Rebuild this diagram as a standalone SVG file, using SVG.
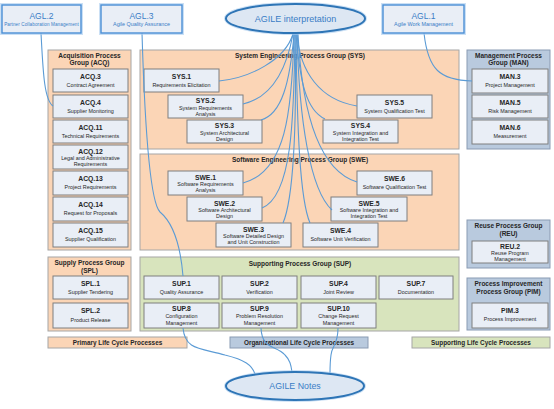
<svg xmlns="http://www.w3.org/2000/svg" width="554" height="409" viewBox="0 0 554 409">
<defs>
<style>
.go{fill:#fbd5b6;stroke:#a6a6a6;stroke-width:1}
.gb{fill:#b9cade;stroke:#8a9bb3;stroke-width:1}
.gg{fill:#d8e4bd;stroke:#a6a6a6;stroke-width:1}
.box{fill:#e9eef6;stroke:#7f7f7f;stroke-width:1}
text{font-family:"Liberation Sans",Arial,sans-serif;fill:#262626;text-anchor:middle}
.t{font-weight:bold;font-size:6.8px}
.s{font-size:5.4px}
.gt{font-weight:bold;font-size:6.5px}
.lt{font-weight:bold;font-size:6.4px}
.aglr{fill:#e9eef6;stroke:#4a8fd6;stroke-width:1.4}
.glow{fill:none;stroke:#a9cbee;stroke-width:4;opacity:0.6}
.at{fill:#3a7dc6;font-size:8.5px}
.as{fill:#3a7dc6;font-size:4.6px}
.ell{fill:#dde7f3;stroke:#2e75b6;stroke-width:2}
.c{fill:none;stroke:#5b9bd5;stroke-width:1.1}
</style>
</defs>
<rect x="0" y="0" width="554" height="409" fill="#ffffff"/>

<!-- Groups -->
<g id="grp-acq"><rect class="go" x="48" y="50" width="83" height="200"/>
<text class="gt" x="89.5" y="57.5">Acquisition Process</text><text class="gt" x="89.5" y="65">Group (ACQ)</text></g>
<g id="grp-sys"><rect class="go" x="140" y="50" width="319" height="99"/>
<text class="gt" x="300" y="57.5">System Engineering Process Group (SYS)</text></g>
<g id="grp-swe"><rect class="go" x="140" y="154" width="319" height="96"/>
<text class="gt" x="300" y="162">Software Engineering Process Group (SWE)</text></g>
<g id="grp-man"><rect class="gb" x="467" y="50" width="83" height="99"/>
<text class="gt" x="508.5" y="57.5">Management Process</text><text class="gt" x="508.5" y="65">Group (MAN)</text></g>
<g id="grp-reu"><rect class="gb" x="467" y="220" width="83" height="48"/>
<text class="gt" x="508.5" y="228">Reuse Process Group</text><text class="gt" x="508.5" y="235.5">(REU)</text></g>
<g id="grp-pim"><rect class="gb" x="467" y="278" width="83" height="52"/>
<text class="gt" x="508.5" y="286">Process Improvement</text><text class="gt" x="508.5" y="293.5">Process Group (PIM)</text></g>
<g id="grp-spl"><rect class="go" x="48" y="257" width="83" height="74"/>
<text class="gt" x="89.5" y="265">Supply Process Group</text><text class="gt" x="89.5" y="272.5">(SPL)</text></g>
<g id="grp-sup"><rect class="gg" x="140" y="257" width="319" height="74"/>
<text class="gt" x="300" y="266">Supporting Process Group (SUP)</text></g>

<!-- ACQ boxes -->
<g id="acq3"><rect class="box" x="53" y="69" width="75" height="23"/><text class="t" x="90.5" y="78.5">ACQ.3</text><text class="s" x="90.5" y="86.5">Contract Agreement</text></g>
<g id="acq4"><rect class="box" x="53" y="95" width="75" height="23"/><text class="t" x="90.5" y="104.5">ACQ.4</text><text class="s" x="90.5" y="112.5">Supplier Monitoring</text></g>
<g id="acq11"><rect class="box" x="53" y="120" width="75" height="23"/><text class="t" x="90.5" y="129.5">ACQ.11</text><text class="s" x="90.5" y="137.5">Technical Requirements</text></g>
<g id="acq12"><rect class="box" x="53" y="145" width="75" height="24"/><text class="t" x="90.5" y="153.5">ACQ.12</text><text class="s" x="90.5" y="160">Legal and Administrative</text><text class="s" x="90.5" y="166">Requirements</text></g>
<g id="acq13"><rect class="box" x="53" y="171" width="75" height="24"/><text class="t" x="90.5" y="180.5">ACQ.13</text><text class="s" x="90.5" y="188.5">Project Requirements</text></g>
<g id="acq14"><rect class="box" x="53" y="197" width="75" height="24"/><text class="t" x="90.5" y="206.5">ACQ.14</text><text class="s" x="90.5" y="214.5">Request for Proposals</text></g>
<g id="acq15"><rect class="box" x="53" y="223" width="75" height="24"/><text class="t" x="90.5" y="232.5">ACQ.15</text><text class="s" x="90.5" y="240.5">Supplier Qualification</text></g>

<!-- SYS boxes -->
<g id="sys1"><rect class="box" x="144" y="69" width="75" height="23"/><text class="t" x="181.5" y="78.5">SYS.1</text><text class="s" x="181.5" y="86.5">Requirements Elicitation</text></g>
<g id="sys2"><rect class="box" x="168" y="95" width="75" height="23"/><text class="t" x="205.5" y="103">SYS.2</text><text class="s" x="205.5" y="109.5">System Requirements</text><text class="s" x="205.5" y="115.5">Analysis</text></g>
<g id="sys3"><rect class="box" x="187" y="120" width="75" height="23"/><text class="t" x="224.5" y="128">SYS.3</text><text class="s" x="224.5" y="134.5">System Architectural</text><text class="s" x="224.5" y="140.5">Design</text></g>
<g id="sys4"><rect class="box" x="323" y="120" width="75" height="23"/><text class="t" x="360.5" y="128">SYS.4</text><text class="s" x="360.5" y="134.5">System Integration and</text><text class="s" x="360.5" y="140.5">Integration Test</text></g>
<g id="sys5"><rect class="box" x="357" y="95" width="75" height="23"/><text class="t" x="394.5" y="104.5">SYS.5</text><text class="s" x="394.5" y="112.5">System Qualification Test</text></g>

<!-- SWE boxes -->
<g id="swe1"><rect class="box" x="168" y="171" width="75" height="24"/><text class="t" x="205.5" y="179.5">SWE.1</text><text class="s" x="205.5" y="186">Software Requirements</text><text class="s" x="205.5" y="192">Analysis</text></g>
<g id="swe2"><rect class="box" x="187" y="197" width="75" height="24"/><text class="t" x="224.5" y="205.5">SWE.2</text><text class="s" x="224.5" y="212">Software Architectural</text><text class="s" x="224.5" y="218">Design</text></g>
<g id="swe3"><rect class="box" x="216" y="223" width="75" height="24"/><text class="t" x="253.5" y="231.5">SWE.3</text><text class="s" x="253.5" y="238">Software Detailed Design</text><text class="s" x="253.5" y="244">and Unit Construction</text></g>
<g id="swe4"><rect class="box" x="303" y="223" width="75" height="24"/><text class="t" x="340.5" y="232.5">SWE.4</text><text class="s" x="340.5" y="240.5">Software Unit Verification</text></g>
<g id="swe5"><rect class="box" x="331" y="197" width="76" height="24"/><text class="t" x="369" y="205.5">SWE.5</text><text class="s" x="369" y="212">Software Integration and</text><text class="s" x="369" y="218">Integration Test</text></g>
<g id="swe6"><rect class="box" x="357" y="171" width="75" height="24"/><text class="t" x="394.5" y="180.5">SWE.6</text><text class="s" x="394.5" y="188.5">Software Qualification Test</text></g>

<!-- MAN, REU, PIM -->
<g id="man3"><rect class="box" x="472" y="69" width="76" height="24"/><text class="t" x="510" y="78.5">MAN.3</text><text class="s" x="510" y="86.5">Project Management</text></g>
<g id="man5"><rect class="box" x="472" y="95" width="76" height="23"/><text class="t" x="510" y="104.5">MAN.5</text><text class="s" x="510" y="112.5">Risk Management</text></g>
<g id="man6"><rect class="box" x="472" y="120" width="76" height="24"/><text class="t" x="510" y="129.5">MAN.6</text><text class="s" x="510" y="137.5">Measurement</text></g>
<g id="reu2"><rect class="box" x="472" y="241" width="76" height="22"/><text class="t" x="510" y="248.5">REU.2</text><text class="s" x="510" y="254.5">Reuse Program</text><text class="s" x="510" y="260.5">Management</text></g>
<g id="pim3"><rect class="box" x="472" y="303" width="76" height="25"/><text class="t" x="510" y="313">PIM.3</text><text class="s" x="510" y="321">Process Improvement</text></g>

<!-- SPL -->
<g id="spl1"><rect class="box" x="53" y="276" width="75" height="23"/><text class="t" x="90.5" y="285.5">SPL.1</text><text class="s" x="90.5" y="293.5">Supplier Tendering</text></g>
<g id="spl2"><rect class="box" x="53" y="303" width="75" height="25"/><text class="t" x="90.5" y="313">SPL.2</text><text class="s" x="90.5" y="321.5">Product Release</text></g>

<!-- SUP -->
<g id="sup1"><rect class="box" x="144" y="276" width="75" height="23"/><text class="t" x="181.5" y="285.5">SUP.1</text><text class="s" x="181.5" y="293.5">Quality Assurance</text></g>
<g id="sup2"><rect class="box" x="222" y="276" width="75" height="23"/><text class="t" x="259.5" y="285.5">SUP.2</text><text class="s" x="259.5" y="293.5">Verification</text></g>
<g id="sup4"><rect class="box" x="301" y="276" width="75" height="23"/><text class="t" x="338.5" y="285.5">SUP.4</text><text class="s" x="338.5" y="293.5">Joint Review</text></g>
<g id="sup7"><rect class="box" x="379" y="276" width="74" height="23"/><text class="t" x="416" y="285.5">SUP.7</text><text class="s" x="416" y="293.5">Documentation</text></g>
<g id="sup8"><rect class="box" x="144" y="303" width="75" height="25"/><text class="t" x="181.5" y="311">SUP.8</text><text class="s" x="181.5" y="318">Configuration</text><text class="s" x="181.5" y="324.5">Management</text></g>
<g id="sup9"><rect class="box" x="222" y="303" width="75" height="25"/><text class="t" x="259.5" y="311">SUP.9</text><text class="s" x="259.5" y="318">Problem Resolution</text><text class="s" x="259.5" y="324.5">Management</text></g>
<g id="sup10"><rect class="box" x="301" y="303" width="75" height="25"/><text class="t" x="338.5" y="311">SUP.10</text><text class="s" x="338.5" y="318">Change Request</text><text class="s" x="338.5" y="324.5">Management</text></g>

<!-- Legend bars -->
<g id="lbl-primary"><rect class="go" x="48" y="337" width="139" height="11"/><text class="lt" x="117.5" y="344.8">Primary Life Cycle Processes</text></g>
<g id="lbl-org"><rect class="gb" x="230" y="337" width="138" height="11"/><text class="lt" x="299" y="344.8">Organizational Life Cycle Processes</text></g>
<g id="lbl-supporting"><rect class="gg" x="412" y="337" width="138" height="11"/><text class="lt" x="481" y="344.8">Supporting Life Cycle Processes</text></g>

<!-- Connectors -->
<g id="connectors">
<path class="c" d="M41,33 C43,70 44,100 53,106"/>
<path class="c" d="M142,33 C144,100 148,200 160,212 C172,222 180,240 183,276"/>
<path class="c" d="M424,33 C428,70 440,80 472,81"/>
<path class="c" d="M293,34 C285,60 250,78 219,81"/>
<path class="c" d="M293,34 C286,72 270,98 243,104"/>
<path class="c" d="M294,34 C290,82 282,114 261,120"/>
<path class="c" d="M294,34 C292,112 286,172 243,183"/>
<path class="c" d="M295,34 C294,120 292,196 262,208"/>
<path class="c" d="M295,34 C297,130 293,200 283,223"/>
<path class="c" d="M296,34 C297,130 300,200 310,223"/>
<path class="c" d="M296,34 C300,82 306,110 325,119"/>
<path class="c" d="M297,34 C300,72 320,100 357,106"/>
<path class="c" d="M297,34 C299,120 310,190 332,210"/>
<path class="c" d="M298,34 C302,112 318,170 357,182"/>
<path class="c" d="M183,328 C185,350 200,348 225,355 C245,360 252,365 255,374"/>
<path class="c" d="M261,328 C262,350 276,345 285,355 C290,360 291,365 292,372"/>
<path class="c" d="M338,328 C338,345 332,345 331,355 C330,362 330,368 330,374"/>
</g>

<!-- AGL nodes -->
<g id="agl2"><rect class="glow" x="2" y="5" width="79" height="28"/><rect class="aglr" x="2" y="5" width="79" height="28"/>
<text class="at" x="41.5" y="18.5">AGL.2</text><text class="as" x="41.5" y="26" letter-spacing="0.1">Partner  Collaboration  Management</text></g>
<g id="agl3"><rect class="glow" x="101" y="5" width="81" height="28"/><rect class="aglr" x="101" y="5" width="81" height="28"/>
<text class="at" x="141.5" y="18.5">AGL.3</text><text class="s" x="141.5" y="26" style="fill:#3a7dc6">Agile Quality Assurance</text></g>
<g id="agl1"><rect class="glow" x="383" y="5" width="81" height="28"/><rect class="aglr" x="383" y="5" width="81" height="28"/>
<text class="at" x="423.5" y="18.5">AGL.1</text><text class="s" x="423.5" y="26" style="fill:#3a7dc6">Agile Work Management</text></g>

<g id="agile-interpretation"><ellipse class="glow" cx="295.5" cy="18.5" rx="69.5" ry="14.5"/><ellipse class="ell" cx="295.5" cy="18.5" rx="69.5" ry="14.5"/>
<text class="at" x="295.5" y="21.8" style="font-size:9px">AGILE interpretation</text></g>
<g id="agile-notes"><ellipse class="glow" cx="295" cy="386" rx="69" ry="14"/><ellipse class="ell" cx="295" cy="386" rx="69" ry="14"/>
<text class="at" x="295" y="389" style="font-size:8.8px">AGILE Notes</text></g>
</svg>
